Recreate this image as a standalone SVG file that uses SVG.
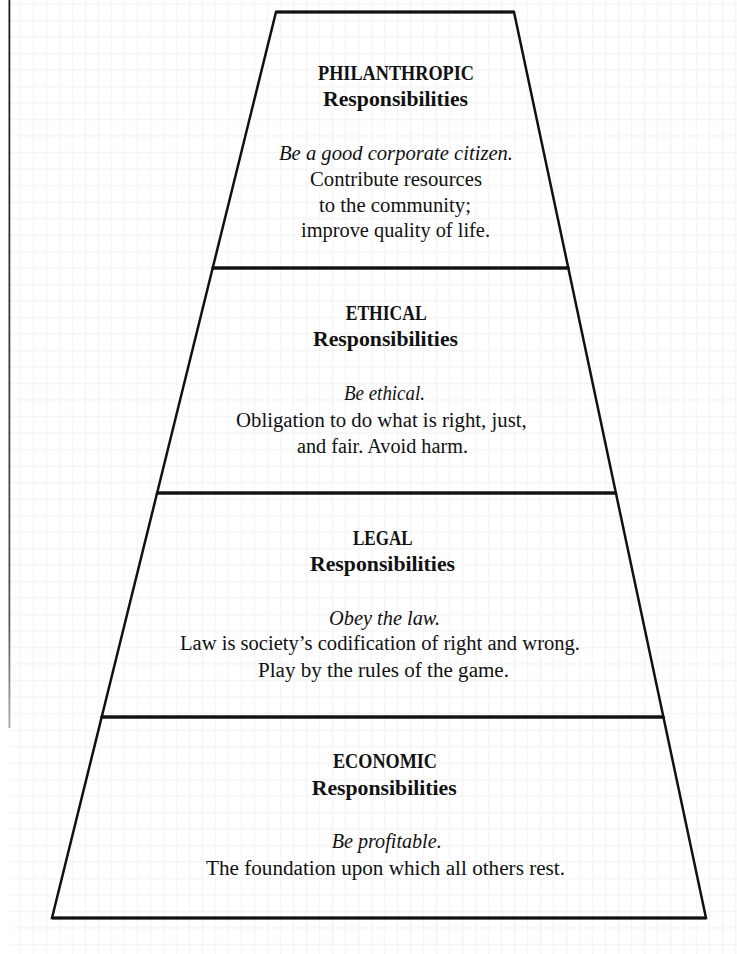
<svg xmlns="http://www.w3.org/2000/svg" width="737" height="954" viewBox="0 0 737 954">
<defs>
<pattern id="grid" patternUnits="userSpaceOnUse" x="6.7" y="3.3" width="13" height="16.5">
<path d="M0.75,0 V16.5 M0,0.75 H13" fill="none" stroke="#f5f5f5" stroke-width="1.5"/>
</pattern>
<linearGradient id="edge" x1="0" y1="0" x2="0" y2="1">
<stop offset="0" stop-color="#1a1a1a"/>
<stop offset="0.85" stop-color="#555"/>
<stop offset="1" stop-color="#aaa"/>
</linearGradient>
</defs>
<style>
.tier{fill:none;stroke:#111;stroke-width:2.5;stroke-linejoin:miter}
.div{stroke:#111;stroke-width:3}
text{font-family:"Liberation Serif","Times New Roman",serif;fill:#111}
.h{font-weight:bold;font-size:21px}
.i{font-style:italic;font-size:20px}
.b{font-size:20px}
</style>
<rect x="0" y="0" width="737" height="954" fill="#fff"/>
<rect x="10" y="0" width="727" height="954" fill="url(#grid)"/>
<rect x="8.5" y="0" width="1.8" height="728" fill="url(#edge)"/>

<g id="philanthropic">
<polygon class="tier" points="276,12 514,12 568.3,268 212.7,268"/>
<line class="div" x1="276" y1="12" x2="514" y2="12"/>
<text class="h" x="318" y="80" textLength="156" lengthAdjust="spacingAndGlyphs">PHILANTHROPIC</text>
<text class="h" x="323" y="106" textLength="145" lengthAdjust="spacingAndGlyphs">Responsibilities</text>
<text class="i" x="279" y="160" textLength="234" lengthAdjust="spacingAndGlyphs">Be a good corporate citizen.</text>
<text class="b" x="310" y="186" textLength="172" lengthAdjust="spacingAndGlyphs">Contribute resources</text>
<text class="b" x="319" y="212" textLength="152" lengthAdjust="spacingAndGlyphs">to the community;</text>
<text class="b" x="301" y="237" textLength="189" lengthAdjust="spacingAndGlyphs">improve quality of life.</text>
</g>

<g id="ethical">
<polygon class="tier" points="212.7,268 568.3,268 615.9,493 157.1,493"/>
<line class="div" x1="212.7" y1="268" x2="568.3" y2="268"/>
<text class="h" x="345.7" y="319.5" textLength="81" lengthAdjust="spacingAndGlyphs">ETHICAL</text>
<text class="h" x="313" y="346" textLength="145" lengthAdjust="spacingAndGlyphs">Responsibilities</text>
<text class="i" x="344" y="400" textLength="81" lengthAdjust="spacingAndGlyphs">Be ethical.</text>
<text class="b" x="236" y="426.7" textLength="290.7" lengthAdjust="spacingAndGlyphs">Obligation to do what is right, just,</text>
<text class="b" x="297" y="453" textLength="171" lengthAdjust="spacingAndGlyphs">and fair. Avoid harm.</text>
</g>

<g id="legal">
<polygon class="tier" points="157.1,493 615.9,493 663.4,717 101.7,717"/>
<line class="div" x1="157.1" y1="493" x2="615.9" y2="493"/>
<text class="h" x="353" y="545" textLength="59.7" lengthAdjust="spacingAndGlyphs">LEGAL</text>
<text class="h" x="310" y="571" textLength="145" lengthAdjust="spacingAndGlyphs">Responsibilities</text>
<text class="i" x="329" y="625" textLength="111" lengthAdjust="spacingAndGlyphs">Obey the law.</text>
<text class="b" x="180" y="650" textLength="400" lengthAdjust="spacingAndGlyphs">Law is society’s codification of right and wrong.</text>
<text class="b" x="258" y="676.7" textLength="251" lengthAdjust="spacingAndGlyphs">Play by the rules of the game.</text>
</g>

<g id="economic">
<polygon class="tier" points="101.7,717 663.4,717 706,918 52,918"/>
<line class="div" x1="101.7" y1="717" x2="663.4" y2="717"/>
<line class="div" x1="52" y1="918" x2="706" y2="918"/>
<text class="h" x="333" y="768.3" textLength="104" lengthAdjust="spacingAndGlyphs">ECONOMIC</text>
<text class="h" x="311.7" y="795" textLength="145" lengthAdjust="spacingAndGlyphs">Responsibilities</text>
<text class="i" x="331.7" y="848" textLength="110" lengthAdjust="spacingAndGlyphs">Be profitable.</text>
<text class="b" x="206" y="875" textLength="359" lengthAdjust="spacingAndGlyphs">The foundation upon which all others rest.</text>
</g>

<g id="connectors"/>
</svg>
